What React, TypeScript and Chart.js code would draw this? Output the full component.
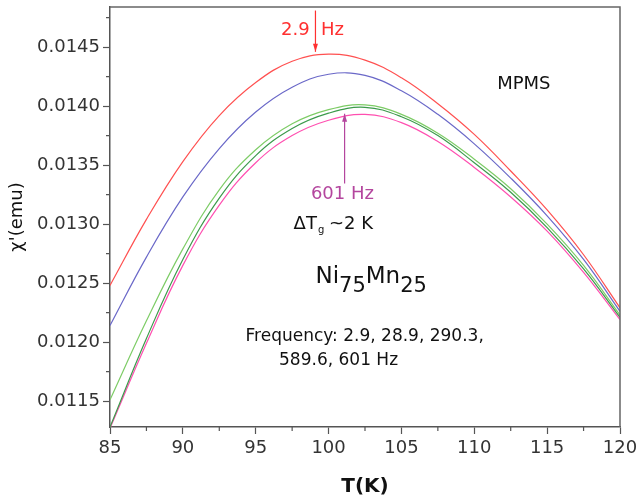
import { useEffect, useRef } from "react";
import { Chart, registerables } from "chart.js";

Chart.register(...registerables);

// ---- data ----
const temperatures = [85, 87.5, 90, 92.5, 95, 97.5, 100, 102.5, 105, 107.5, 110, 112.5, 115, 117.5, 120];
const chi_2_9Hz = [0.01248, 0.01304, 0.01353, 0.01392, 0.0142, 0.01438, 0.01444, 0.01439, 0.01424, 0.01402, 0.01376, 0.01345, 0.01312, 0.01274, 0.01229];
const chi_28_9Hz = [0.01214, 0.01272, 0.01323, 0.01364, 0.01395, 0.01416, 0.01427, 0.01426, 0.01413, 0.01393, 0.01368, 0.01339, 0.01307, 0.0127, 0.01226];
const chi_290_3Hz = [0.01151, 0.01218, 0.01279, 0.01329, 0.01363, 0.01385, 0.01397, 0.01401, 0.01393, 0.01377, 0.01355, 0.0133, 0.013, 0.01265, 0.01223];
const chi_589_6Hz = [0.01128, 0.01203, 0.0127, 0.01322, 0.01358, 0.01381, 0.01394, 0.01399, 0.01391, 0.01375, 0.01352, 0.01327, 0.01297, 0.01262, 0.01221];
const chi_601Hz = [0.01127, 0.01199, 0.01265, 0.01316, 0.01352, 0.01375, 0.01388, 0.01393, 0.01386, 0.0137, 0.01348, 0.01323, 0.01294, 0.01259, 0.01219];

const xTicks = [85, 90, 95, 100, 105, 110, 115, 120];
const xMinorTicks = [87.5, 92.5, 97.5, 102.5, 107.5, 112.5, 117.5];
const yTicks = [0.0115, 0.012, 0.0125, 0.013, 0.0135, 0.014, 0.0145];
const yMinorTicks = [0.01175, 0.01225, 0.01275, 0.01325, 0.01375, 0.01425, 0.01475];

const FONT = "'DejaVu Sans', sans-serif";

function series(values: number[]) {
  return temperatures.map((t, i) => ({ x: t, y: values[i] }));
}

function arrow(ctx: CanvasRenderingContext2D, x: number, y1: number, y2: number, color: string) {
  ctx.strokeStyle = color;
  ctx.fillStyle = color;
  ctx.lineWidth = 1.2;
  ctx.beginPath();
  ctx.moveTo(x, y1);
  ctx.lineTo(x, y2);
  ctx.stroke();
  const dir = y2 > y1 ? 1 : -1;
  ctx.beginPath();
  ctx.moveTo(x, y2);
  ctx.lineTo(x - 2.5, y2 - dir * 8);
  ctx.lineTo(x + 2.5, y2 - dir * 8);
  ctx.closePath();
  ctx.fill();
}

const decorPlugin = {
  id: "decor",
  afterDraw(chart: any) {
    const { ctx, chartArea: a, scales } = chart;
    const xs = scales.x;
    const ys = scales.y;
    ctx.save();
    // top & right frame
    ctx.strokeStyle = "#666";
    ctx.lineWidth = 1.5;
    ctx.beginPath();
    ctx.moveTo(a.left, a.top);
    ctx.lineTo(a.right, a.top);
    ctx.lineTo(a.right, a.bottom);
    ctx.stroke();
    // minor ticks
    ctx.strokeStyle = "#555";
    ctx.lineWidth = 1.2;
    ctx.beginPath();
    xMinorTicks.forEach((t) => {
      const px = xs.getPixelForValue(t);
      ctx.moveTo(px, a.bottom);
      ctx.lineTo(px, a.bottom + 4);
    });
    yMinorTicks.forEach((v) => {
      const py = ys.getPixelForValue(v);
      ctx.moveTo(a.left, py);
      ctx.lineTo(a.left - 4, py);
    });
    ctx.stroke();

    // annotations
    ctx.textBaseline = "middle";
    ctx.textAlign = "center";

    // 2.9 Hz
    ctx.font = `18px ${FONT}`;
    ctx.fillStyle = "#ff3030";
    ctx.fillText("2.9  Hz", xs.getPixelForValue(98.9), ys.getPixelForValue(0.014645));
    arrow(ctx, xs.getPixelForValue(99.1), ys.getPixelForValue(0.01481), ys.getPixelForValue(0.01446), "#ff3030");

    // 601 Hz
    ctx.fillStyle = "#b4469e";
    ctx.fillText("601 Hz", xs.getPixelForValue(100.95), ys.getPixelForValue(0.013253));
    arrow(ctx, xs.getPixelForValue(101.1), ys.getPixelForValue(0.013345), ys.getPixelForValue(0.013935), "#b4469e");

    // ΔTg ~2K
    ctx.fillStyle = "#111";
    ctx.textAlign = "left";
    let x0 = xs.getPixelForValue(97.6);
    const yD = ys.getPixelForValue(0.013);
    ctx.font = `18px ${FONT}`;
    ctx.fillText("ΔT", x0, yD);
    x0 += ctx.measureText("ΔT").width;
    ctx.font = `10px ${FONT}`;
    ctx.fillText("g", x0 + 1, yD + 6);
    x0 += 12;
    ctx.font = `18px ${FONT}`;
    ctx.fillText("~2 K", x0, yD);

    // Ni75Mn25
    let xn = xs.getPixelForValue(99.1);
    const yn = ys.getPixelForValue(0.01255);
    const parts: [string, boolean][] = [["Ni", false], ["75", true], ["Mn", false], ["25", true]];
    parts.forEach(([txt, sub]) => {
      ctx.font = sub ? `21px ${FONT}` : `23px ${FONT}`;
      ctx.fillText(txt, xn, sub ? yn + 9 : yn);
      xn += ctx.measureText(txt).width;
    });

    // Frequency list
    ctx.font = `17px ${FONT}`;
    ctx.fillText("Frequency: 2.9, 28.9, 290.3,", xs.getPixelForValue(94.3), ys.getPixelForValue(0.012048));
    ctx.fillText("589.6, 601 Hz", xs.getPixelForValue(96.6), ys.getPixelForValue(0.011845));

    // MPMS
    ctx.font = `18px ${FONT}`;
    ctx.textAlign = "center";
    ctx.fillText("MPMS", xs.getPixelForValue(113.4), ys.getPixelForValue(0.014185));
    ctx.restore();
  },
};

export default function App() {
  const ref = useRef<HTMLCanvasElement | null>(null);
  useEffect(() => {
    document.body.style.margin = "0";
    const canvas = ref.current;
    if (!canvas) return;
    const lw = 1.2;
    const chart = new Chart(canvas, {
      type: "line",
      data: {
        datasets: [
          { label: "2.9 Hz", data: series(chi_2_9Hz), borderColor: "#ff5050", borderWidth: lw },
          { label: "28.9 Hz", data: series(chi_28_9Hz), borderColor: "#6a68c8", borderWidth: lw },
          { label: "290.3 Hz", data: series(chi_290_3Hz), borderColor: "#7dcc66", borderWidth: lw },
          { label: "589.6 Hz", data: series(chi_589_6Hz), borderColor: "#3c9a4c", borderWidth: lw },
          { label: "601 Hz", data: series(chi_601Hz), borderColor: "#ff4fb0", borderWidth: lw },
        ],
      },
      options: {
        responsive: false,
        animation: false,
        layout: { padding: { left: 0, right: 19, top: 7, bottom: 0 } },
        elements: { point: { radius: 0 }, line: { tension: 0.4 } },
        plugins: { legend: { display: false }, tooltip: { enabled: false } },
        scales: {
          x: {
            type: "linear",
            min: 85,
            max: 120,
            afterBuildTicks: (s: any) => {
              s.ticks = xTicks.map((v) => ({ value: v }));
            },
            afterFit: (s: any) => {
              s.height = 73;
              s.paddingLeft = 0;
              s.paddingRight = 0;
            },
            ticks: {
              font: { family: FONT, size: 18 },
              color: "#333",
              padding: 4,
              maxRotation: 0,
              autoSkip: false,
            },
            grid: { drawOnChartArea: false, drawTicks: true, tickLength: 7, tickColor: "#555", tickWidth: 1.2 },
            border: { display: true, color: "#555", width: 1.5 },
            title: {
              display: true,
              text: "T(K)",
              font: { family: FONT, size: 20, weight: "bold" },
              color: "#111",
              padding: { top: 0, bottom: 1 },
            },
          },
          y: {
            type: "linear",
            min: 0.01128,
            max: 0.01484,
            afterBuildTicks: (s: any) => {
              s.ticks = yTicks.map((v) => ({ value: v }));
            },
            afterFit: (s: any) => {
              s.width = 110;
              s.paddingTop = 0;
              s.paddingBottom = 0;
            },
            ticks: {
              font: { family: FONT, size: 18 },
              color: "#333",
              padding: 3,
              callback: (v: any) => Number(v).toFixed(4),
            },
            grid: { drawOnChartArea: false, drawTicks: true, tickLength: 7, tickColor: "#555", tickWidth: 1.2 },
            border: { display: true, color: "#555", width: 1.5 },
            title: {
              display: true,
              text: "χ'(emu)",
              font: { family: FONT, size: 18 },
              color: "#111",
              padding: { top: 7, bottom: 0 },
            },
          },
        },
      },
      plugins: [decorPlugin],
    } as any);
    return () => chart.destroy();
  }, []);
  return <canvas ref={ref} width={639} height={500} style={{ display: "block" }} />;
}
